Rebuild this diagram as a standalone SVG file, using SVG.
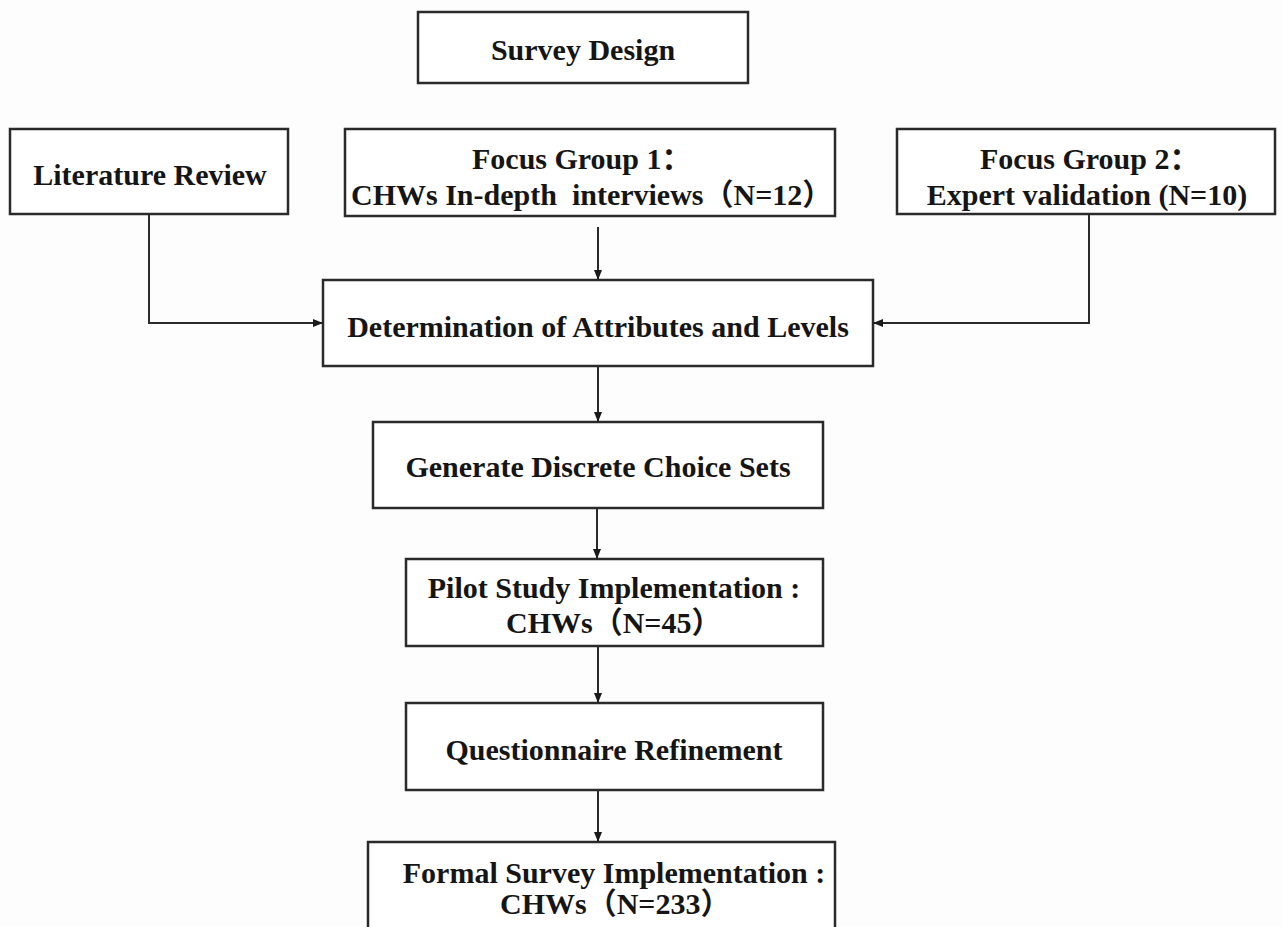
<svg xmlns="http://www.w3.org/2000/svg" width="1282" height="927" viewBox="0 0 1282 927">
<defs>
<marker id="ah" markerWidth="10" markerHeight="10" refX="9" refY="5" orient="auto" markerUnits="userSpaceOnUse">
<path d="M0,1 L10,5 L0,9 Z" fill="#1a1a1a"/>
</marker>
<style>
.box{fill:#ffffff;stroke:#2a2a2a;stroke-width:2.5}
.t{font-family:'Liberation Serif','Times New Roman','Noto Sans CJK SC',serif;font-weight:700;font-size:30px;fill:#151515;text-anchor:middle}
.s{text-anchor:start}
.c{fill:none;stroke:#2a2a2a;stroke-width:2;marker-end:url(#ah)}
</style>
</defs>
<rect width="1282" height="927" fill="#fdfdfd"/>
<g id="survey-design"><rect class="box" x="418" y="12" width="330" height="71"/><text class="t" x="583" y="60">Survey Design</text></g>
<g id="literature-review"><rect class="box" x="10" y="129" width="278" height="85"/><text class="t" x="150" y="185">Literature Review</text></g>
<g id="focus-group-1"><rect class="box" x="345" y="129" width="490" height="87"/><text class="t s" x="472" y="169">Focus Group 1：</text><text class="t s" x="351" y="205" xml:space="preserve">CHWs In-depth  interviews（N=12）</text></g>
<g id="focus-group-2"><rect class="box" x="897" y="129" width="378" height="85"/><text class="t s" x="980" y="169">Focus Group 2：</text><text class="t" x="1087" y="205">Expert validation (N=10)</text></g>
<g id="determination"><rect class="box" x="323" y="280" width="550" height="86"/><text class="t" x="598" y="337">Determination of Attributes and Levels</text></g>
<g id="generate"><rect class="box" x="373" y="422" width="450" height="86"/><text class="t" x="598" y="477">Generate Discrete Choice Sets</text></g>
<g id="pilot"><rect class="box" x="406" y="559" width="417" height="87"/><text class="t" x="614" y="598">Pilot Study Implementation :</text><text class="t s" x="506" y="633">CHWs（N=45）</text></g>
<g id="questionnaire"><rect class="box" x="406" y="703" width="417" height="87"/><text class="t" x="614" y="760">Questionnaire Refinement</text></g>
<g id="formal"><rect class="box" x="368" y="842" width="467" height="95"/><text class="t" x="614" y="883">Formal Survey Implementation :</text><text class="t s" x="500" y="914">CHWs（N=233）</text></g>
<g id="connectors">
<path class="c" d="M149,214 V323 H322"/>
<path class="c" d="M1089,214 V323 H874"/>
<path class="c" d="M598,227 V279"/>
<path class="c" d="M598,366 V421"/>
<path class="c" d="M597,508 V558"/>
<path class="c" d="M598,646 V702"/>
<path class="c" d="M598,790 V841"/>
</g>
</svg>
